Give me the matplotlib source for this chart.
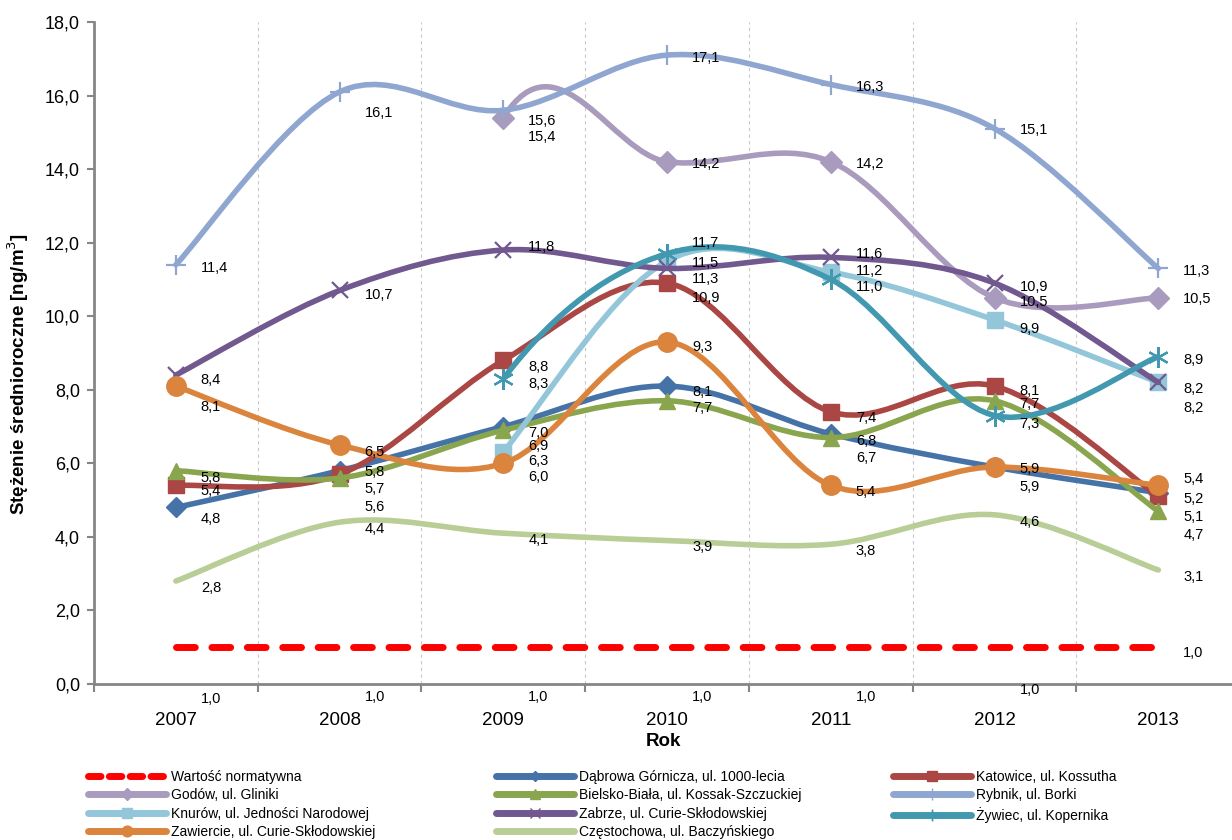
import numpy as np
import matplotlib
matplotlib.use('Agg')
import matplotlib.pyplot as plt
from matplotlib.path import Path
from matplotlib.patches import PathPatch
from matplotlib.lines import Line2D

# Data
years = ['2007', '2008', '2009', '2010', '2011', '2012', '2013']

norma = [1.0, 1.0, 1.0, 1.0, 1.0, 1.0, 1.0]
dabrowa = [4.8, 5.8, 7.0, 8.1, 6.8, 5.9, 5.2]
katowice = [5.4, 5.7, 8.8, 10.9, 7.4, 8.1, 5.1]
godow = [None, None, 15.4, 14.2, 14.2, 10.5, 10.5]
bielsko = [5.8, 5.6, 6.9, 7.7, 6.7, 7.7, 4.7]
rybnik = [11.4, 16.1, 15.6, 17.1, 16.3, 15.1, 11.3]
knurow = [None, None, 6.3, 11.5, 11.2, 9.9, 8.2]
zabrze = [8.4, 10.7, 11.8, 11.3, 11.6, 10.9, 8.2]
zywiec = [None, None, 8.3, 11.7, 11.0, 7.3, 8.9]
zawiercie = [8.1, 6.5, 6.0, 9.3, 5.4, 5.9, 5.4]
czestochowa = [2.8, 4.4, 4.1, 3.9, 3.8, 4.6, 3.1]

# name, values, color, marker, marker size, line width, label shifts (px down)
series = [
    ('Wartość normatywna', norma, '#FF0000', None, 0, 5, [52, 50, 50, 50, 50, 43, 6]),
    ('Dąbrowa Górnicza, ul. 1000-lecia', dabrowa, '#4572A7', 'D', 10, 4, [12, 1, 6, 6, 7, 20, 6]),
    ('Katowice, ul. Kossutha', katowice, '#AA4643', 's', 12, 4, [6, 15, 7, 15, 6, 5, 21]),
    ('Godów, ul. Gliniki', godow, '#A99BBD', 'D', 11, 4, [0, 0, 19, 2, 2, 4, 1]),
    ('Bielsko-Biała, ul. Kossak-Szczuckiej', bielsko, '#89A54E', '^', 12, 4, [7, 29, 16, 7, 20, 3, 24]),
    ('Rybnik, ul. Borki', rybnik, '#8EA6D0', '+', 15, 4, [3, 21, 11, 3, 2, 1, 3]),
    ('Knurów, ul. Jedności Narodowej', knurow, '#93C6D9', 's', 12, 4, [0, 0, 9, 2, -1, 9, 26]),
    ('Zabrze, ul. Curie-Skłodowskiej', zabrze, '#71588F', 'x', 12, 4, [5, 5, -3, 11, -3, 4, 7]),
    ('Żywiec, ul. Kopernika', zywiec, '#4198AF', (6, 2, 0), 15, 4, [0, 0, 5, -11, 8, 8, 3]),
    ('Zawiercie, ul. Curie-Skłodowskiej', zawiercie, '#DB843D', 'o', 14, 4, [21, 7, 14, 5, 7, 2, -6]),
    ('Częstochowa, ul. Baczyńskiego', czestochowa, '#B9CD96', None, 0, 4, [7, 7, 7, 6, 7, 7, 7]),
]

font = ['Liberation Sans', 'DejaVu Sans']
plt.rcParams['font.family'] = font


def smooth_path(vals):
    ''' Bezier path through the points, like the smoothed line in Excel
    (blank cells before the first value count as 0 for the curve shape). '''
    idx = [i for i, v in enumerate(vals) if v is not None]
    pts = np.array([[i, vals[i]] for i in idx], dtype=float)
    n = len(pts)
    verts = [pts[0]]
    codes = [Path.MOVETO]
    for i in range(n - 1):
        if i > 0:
            p0 = pts[i - 1]
        elif idx[0] > 0:
            p0 = np.array([idx[0] - 1, 0.0])
        else:
            p0 = pts[i]
        p1 = pts[i]
        p2 = pts[i + 1]
        p3 = pts[i + 2] if i + 2 < n else pts[i + 1]
        verts += [p1 + (p2 - p0) / 6, p2 - (p3 - p1) / 6, p2]
        codes += [Path.CURVE4] * 3
    return Path(verts, codes)


fig = plt.figure(figsize=(12.32, 8.4), dpi=100)
ax = fig.add_axes([94 / 1232, 1 - 684 / 840, 1 - 94 / 1232, 662 / 840])

handles = []
for k, (name, vals, color, marker, ms, lw, shifts) in enumerate(series):
    idx = [i for i, v in enumerate(vals) if v is not None]
    xs = np.array(idx)
    ys = np.array([vals[i] for i in idx])
    z = 2 + k * 0.1
    if name == 'Wartość normatywna':
        ax.plot(xs, ys, color=color, lw=lw, dashes=(2.7, 2.4), dash_capstyle='round', zorder=z)
        h = Line2D([], [], color=color, lw=5, dashes=(1.8, 1.2), dash_capstyle='round')
    else:
        ax.add_patch(PathPatch(smooth_path(vals), fill=False, edgecolor=color, lw=lw,
                               capstyle='round', joinstyle='round', zorder=z))
        if marker is not None:
            thin = marker in ('+', 'x') or isinstance(marker, tuple)
            ax.plot(xs, ys, ls='none', marker=marker, ms=ms, color=color,
                    mew=1.6 if thin else 1, zorder=z + 0.05)
        h = Line2D([], [], color=color, lw=lw + 1, marker=marker, solid_capstyle='round',
                   ms=ms * 0.55 if marker is not None else 0, mew=1)
    handles.append(h)
    for i in idx:
        ax.annotate(f'{vals[i]:.1f}'.replace('.', ','), (i, vals[i]),
                    xytext=(25, -shifts[i]), textcoords='offset pixels',
                    ha='left', va='center', fontsize=10.5, zorder=10)

# Axes
ax.set_xlim(-0.5, 6.45)
ax.set_ylim(0, 18)
ax.set_xticks(range(len(years)))
ax.set_xticklabels(years)
ax.set_xticks(np.arange(-0.5, 6.0, 1.0), minor=True)
ax.set_yticks(np.arange(0, 18.1, 2))
ax.set_yticklabels([f'{v:.1f}'.replace('.', ',') for v in np.arange(0, 18.1, 2)])
ax.tick_params(axis='x', which='major', length=0, labelsize=13.5, pad=20)
ax.tick_params(axis='x', which='minor', length=6, width=1.5, color='#868686')
ax.tick_params(axis='y', length=5, width=1.5, color='#868686', labelsize=13, pad=5)
ax.grid(True, which='minor', axis='x', ls=(0, (3, 3)), color='#C8C8C8', lw=0.8)
for side in ['top', 'right']:
    ax.spines[side].set_visible(False)
for side in ['left', 'bottom']:
    ax.spines[side].set_color('#868686')
    ax.spines[side].set_linewidth(2)

ax.set_xlabel('Rok', fontsize=13.5, fontweight='bold', labelpad=3)
ax.set_ylabel('Stężenie średnioroczne [ng/m$^3$]', fontsize=13.5, fontweight='bold')
ax.yaxis.set_label_coords(-0.055, 0.468)

# Legend in three columns, filled row by row
cols = [[0, 3, 6, 9], [1, 4, 7, 10], [2, 5, 8]]
col_x = [88, 496, 893]
for c, cx in zip(cols, col_x):
    fig.legend([handles[i] for i in c], [series[i][0] for i in c],
               loc='upper left', bbox_to_anchor=(cx / 1232, 1 - 770 / 840),
               frameon=False, prop={'family': font, 'size': 10},
               handlelength=5.6, handletextpad=0.35, labelspacing=0.31,
               borderpad=0, borderaxespad=0)

fig.savefig('out.png', dpi=100)
